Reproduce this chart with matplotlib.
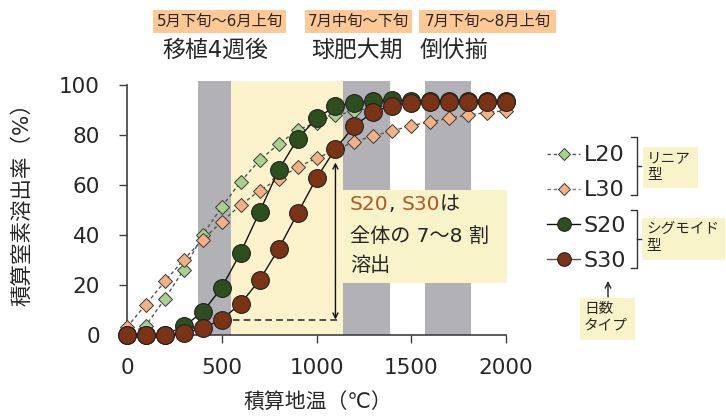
import matplotlib
matplotlib.use('Agg')
import matplotlib.pyplot as plt
from matplotlib.patches import Rectangle, FancyArrowPatch
from matplotlib.lines import Line2D
import numpy as np

plt.rcParams['font.family'] = ['DejaVu Sans', 'Noto Sans CJK JP']

# 積算地温 (℃) と 各タイプの積算窒素溶出率 (%)
temp = np.arange(0, 2001, 100)
l20 = [0, 3.8, 14.5, 26.2, 40, 51.3, 61.3, 70, 76.3, 82, 85, 88, 89.5, 91, 92, 92.5, 93, 93, 93, 93, 93]
l30 = [3.2, 12.2, 21.5, 30.2, 38.2, 45.3, 52, 57.8, 62.5, 67.2, 70.7, 74, 77.3, 79.6, 81.7, 83.7, 85.3, 86.7, 88, 89, 89.7]
s20 = [0, 0, 0, 3.5, 9.2, 19, 33, 49.3, 66, 78.4, 86.7, 91.5, 93, 93.7, 94, 93.7, 93.5, 93.5, 93.5, 93.5, 93.5]
s30 = [0, 0, 0, 0.7, 2.7, 6.2, 12.6, 22, 34.4, 48.7, 62.7, 74.5, 83.7, 89.2, 91.8, 93, 93.3, 93.3, 93.3, 93.3, 93.3]

gray_spans = [(375, 550), (1140, 1388), (1573, 1814)]
yellow_span = (550, 1140)
periods = ['5月下旬〜6月上旬', '7月中旬〜下旬', '7月下旬〜8月上旬']
stages = ['移植4週後', '球肥大期', '倒伏揃']

W, H = 726, 416
def px(x, y):
    return (x / W, 1 - y / H)

fig = plt.figure(figsize=(W / 100, H / 100), dpi=100)
ax = fig.add_axes([127 / W, 1 - 335 / H, 379 / W, 253.75 / H])
ax.set_xlim(0, 2000)
ax.set_ylim(0, 101.5)

for a, b in gray_spans:
    ax.axvspan(a, b, color='#B2B2B6', lw=0, zorder=0)
ax.axvspan(*yellow_span, color='#FCF3CC', lw=0, zorder=0)

ax.add_patch(Rectangle((1140, 20.8), 865, 37.2, facecolor='#F8F3C8', edgecolor='none',
                       zorder=1, clip_on=False))

dash = (0, (2.5, 2))
ax.plot(temp, l20, linestyle=dash, color='#555555', lw=1, marker='D', ms=7.6,
        mfc='#A9D18E', mec='#3a3a3a', mew=0.7, zorder=3, clip_on=False)
ax.plot(temp, l30, linestyle=dash, color='#555555', lw=1, marker='D', ms=7.6,
        mfc='#F4B183', mec='#3a3a3a', mew=0.7, zorder=3, clip_on=False)
ax.plot(temp, s20, '-', color='#111111', lw=1, marker='o', ms=12.8,
        mfc='#2D4F1E', mec='#222222', mew=0.8, zorder=4, clip_on=False)
ax.plot(temp, s30, '-', color='#111111', lw=1, marker='o', ms=12.8,
        mfc='#7B3316', mec='#222222', mew=0.8, zorder=5, clip_on=False)

# 溶出量の矢印
base = s30[5]
ax.plot([500, 1125], [base, base], linestyle=(0, (4, 2.5)), color='#333333', lw=1.2, zorder=2)
ax.annotate('', xy=(1100, 69), xytext=(1100, base), xycoords='data',
            arrowprops=dict(arrowstyle='<->', color='#111111', lw=1, shrinkA=0, shrinkB=0,
                            mutation_scale=9), zorder=6)

brown = '#B4562A'
t1 = ax.text(1177, 52, 'S20', color=brown, fontsize=14.5, va='center', ha='left', zorder=6)
t2 = ax.annotate(', ', xy=(1, 0), xycoords=t1, va='bottom', ha='left', fontsize=14.5, color='#262626')
t3 = ax.annotate('S30', xy=(1, 0), xycoords=t2, va='bottom', ha='left', fontsize=14.5, color=brown)
ax.annotate('は', xy=(1, 0), xycoords=t3, va='bottom', ha='left', fontsize=14.5, color='#262626')
ax.text(1177, 39.3, '全体の 7〜8 割', fontsize=14.5, va='center', ha='left', color='#262626', zorder=6)
ax.text(1177, 28, '溶出', fontsize=14.5, va='center', ha='left', color='#262626', zorder=6)

for s in ['top', 'right']:
    ax.spines[s].set_visible(False)
for s in ['left', 'bottom']:
    ax.spines[s].set_color('#404040')
    ax.spines[s].set_linewidth(1.2)
ax.spines['left'].set_bounds(0, 100)
ax.set_xticks([0, 500, 1000, 1500, 2000])
ax.set_yticks([0, 20, 40, 60, 80, 100])
ax.tick_params(axis='x', length=6, width=1, color='#404040', pad=10.5, labelsize=15.5, labelcolor='#262626')
ax.tick_params(axis='y', length=6, width=1, color='#404040', pad=13.5, labelsize=15.5, labelcolor='#262626')
ax.set_xlabel('積算地温（℃）', fontsize=15, color='#262626')
ax.set_ylabel('積算窒素溶出率（%）', fontsize=15.5, color='#262626')
ax.xaxis.set_label_coords(0.504, -0.225)
ax.yaxis.set_label_coords(-0.25, 0.536)

# 上部の時期ラベル
boxes = [(153, 286), (305, 412), (419, 556)]
centers = [215, 357, 454]
for (x0, x1), p, st, c in zip(boxes, periods, stages, centers):
    fig.add_artist(Rectangle(px(x0, 33), (x1 - x0) / W, 23 / H, transform=fig.transFigure,
                             facecolor='#FFC996', edgecolor='none'))
    fig.text(*px((x0 + x1) / 2, 21.5), p, fontsize=11, ha='center', va='center', color='#262626')
    fig.text(*px(c, 50), st, fontsize=16.5, ha='center', va='center', color='#262626')

# 凡例
handles = [
    Line2D([], [], linestyle=dash, color='#555555', lw=1, marker='D', ms=6.6, mfc='#A9D18E', mec='#3a3a3a', mew=0.7),
    Line2D([], [], linestyle=dash, color='#777777', lw=1, marker='D', ms=6.6, mfc='#F4B183', mec='#3a3a3a', mew=0.7),
    Line2D([], [], color='#111111', lw=1, marker='o', ms=9.8, mfc='#2D4F1E', mec='#222222', mew=0.8),
    Line2D([], [], color='#555555', lw=1, marker='o', ms=9.8, mfc='#7B3316', mec='#222222', mew=0.8),
]
fig.legend(handles, ['L20', 'L30', 'S20', 'S30'], loc='center left', bbox_to_anchor=px(547, 208),
           frameon=False, fontsize=16, handlelength=1.5, handletextpad=0.15, labelspacing=0.68,
           borderpad=0, borderaxespad=0, labelcolor='#262626')

def bracket(top, bottom):
    mid = (top + bottom) / 2
    xs = [631, 637, 637, 631]
    ys = [top, top, bottom, bottom]
    fig.add_artist(Line2D([x / W for x in xs], [1 - y / H for y in ys], transform=fig.transFigure,
                          color='#333333', lw=1))
    fig.add_artist(Line2D([637 / W, 641 / W], [1 - mid / H] * 2, transform=fig.transFigure,
                          color='#333333', lw=1))

bracket(137, 195)
bracket(210, 268)

def note(x0, y0, x1, y1, text):
    fig.add_artist(Rectangle(px(x0, y1), (x1 - x0) / W, (y1 - y0) / H, transform=fig.transFigure,
                             facecolor='#F8F3C8', edgecolor='none'))
    fig.text(*px(x0 + 4, y0 + 3), text, fontsize=10.5, ha='left', va='top', color='#262626',
             linespacing=1.15)

note(643, 147, 698, 188, 'リニア\n型')
note(642, 218, 725, 260, 'シグモイド\n型')
note(580, 298, 635, 340, '日数\nタイプ')
fig.add_artist(FancyArrowPatch(px(608, 297), px(608, 281), transform=fig.transFigure,
                               arrowstyle='->', mutation_scale=10, lw=1, color='#222222',
                               shrinkA=0, shrinkB=0))

fig.savefig('out.png', dpi=100)
